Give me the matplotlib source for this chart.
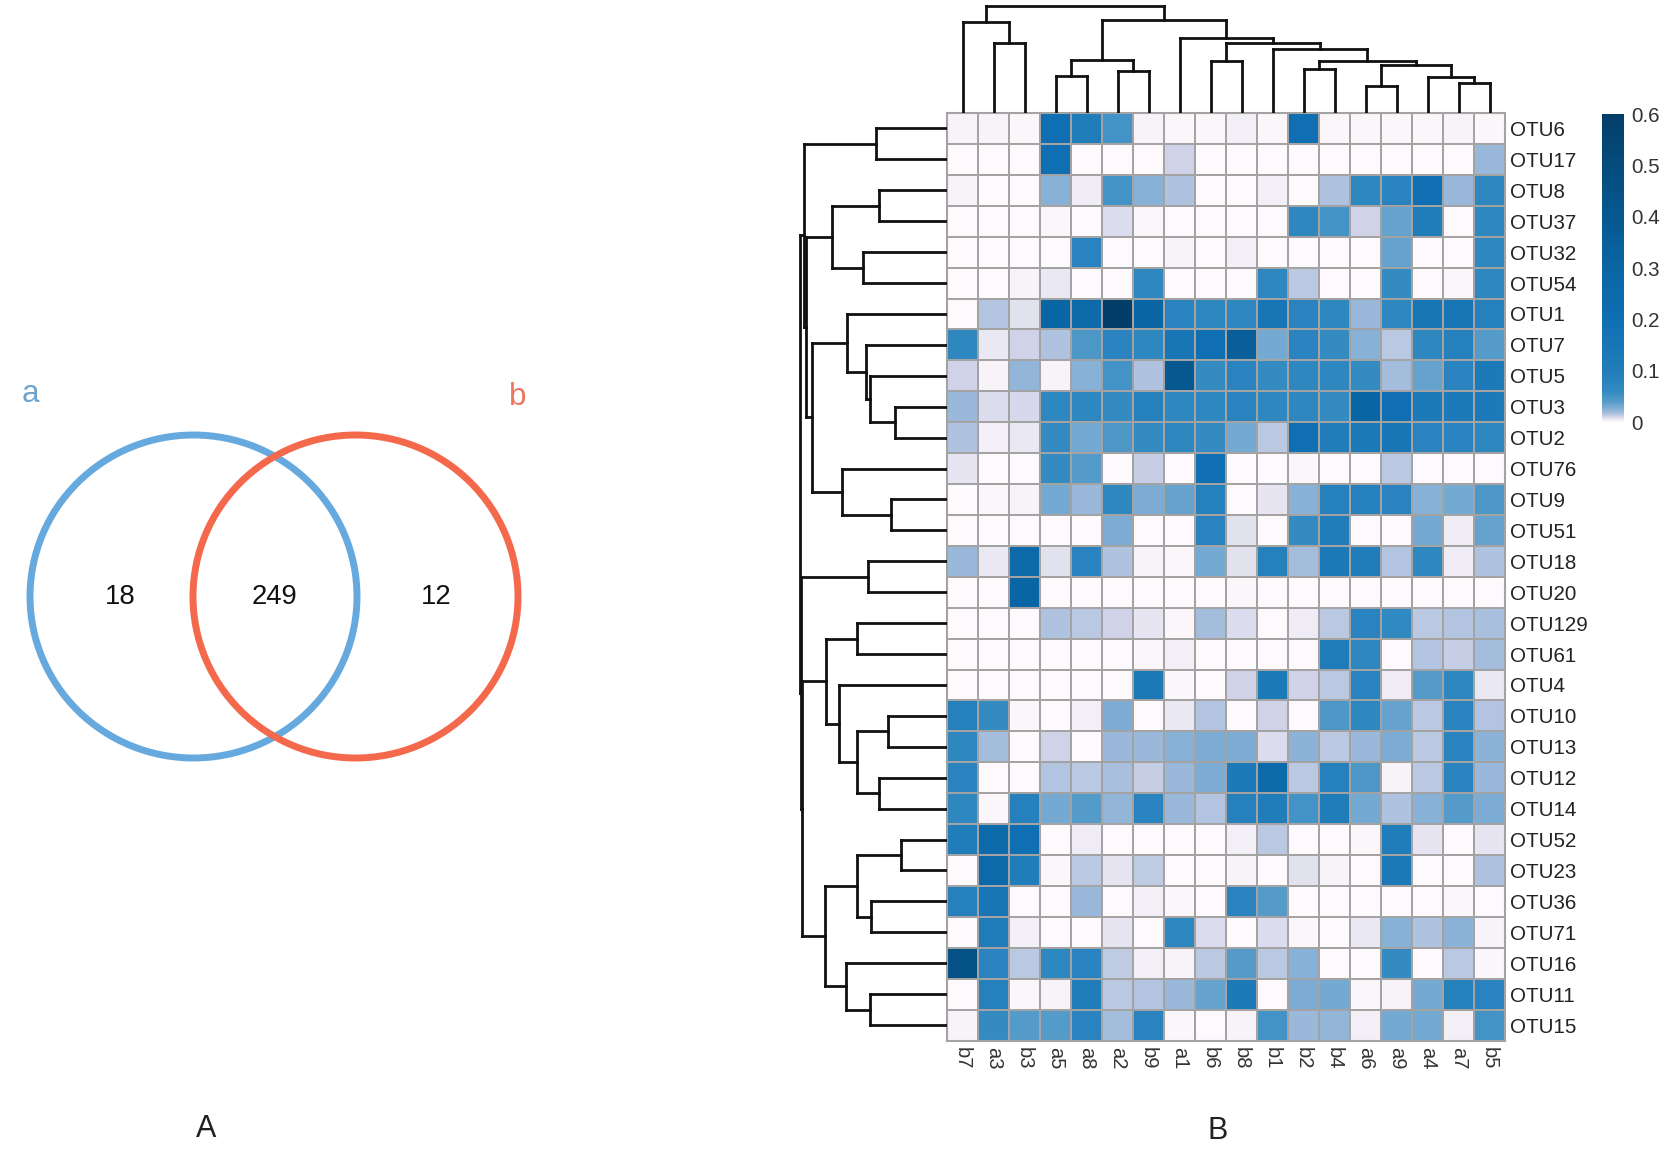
import numpy as np
import matplotlib
matplotlib.use("Agg")
import matplotlib.pyplot as plt
from matplotlib.colors import LinearSegmentedColormap, Normalize
from matplotlib.cm import ScalarMappable
from matplotlib.patches import Ellipse

plt.rcParams['font.family'] = ['Liberation Sans', 'DejaVu Sans']

W, H = 1667, 1154

# ---- Venn counts ----
set_names = ['a', 'b']
venn_counts = ['18', '249', '12']

# ---- Heatmap data ----
samples = ['b7','a3','b3','a5','a8','a2','b9','a1','b6','b8','b1','b2','b4','a6','a9','a4','a7','b5']
otus = ['OTU6','OTU17','OTU8','OTU37','OTU32','OTU54','OTU1','OTU7','OTU5','OTU3','OTU2','OTU76',
        'OTU9','OTU51','OTU18','OTU20','OTU129','OTU61','OTU4','OTU10','OTU13','OTU12','OTU14',
        'OTU52','OTU23','OTU36','OTU71','OTU16','OTU11','OTU15']
abundance = [
 [.002,.002,.001,.2,.1,.05,.002,.001,.001,.003,.001,.2,.001,.001,.001,.001,.002,.001],
 [0,0,0,.2,0,0,0,.01,0,0,0,0,0,0,0,0,0,.02],
 [.002,0,0,.025,.004,.05,.025,.016,0,0,.003,0,.016,.07,.08,.2,.02,.07],
 [0,0,0,.001,0,.008,.001,0,0,0,0,.07,.05,.01,.035,.1,0,.07],
 [0,0,0,0,.08,0,0,.002,0,.003,0,0,0,0,.035,0,0,.07],
 [0,0,.002,.005,0,0,.07,0,0,0,.07,.014,0,0,.06,0,.001,.07],
 [0,.015,.007,.3,.25,.6,.3,.08,.07,.07,.15,.08,.07,.02,.07,.15,.15,.09],
 [.07,.005,.01,.016,.045,.08,.07,.15,.2,.35,.03,.08,.06,.025,.014,.07,.09,.04],
 [.01,.002,.022,.002,.025,.05,.016,.4,.06,.08,.06,.07,.07,.06,.018,.035,.08,.12],
 [.02,.008,.009,.07,.07,.06,.09,.07,.07,.08,.07,.07,.06,.3,.2,.12,.12,.12],
 [.016,.003,.005,.06,.03,.045,.06,.07,.06,.03,.014,.2,.1,.13,.15,.08,.08,.07],
 [.006,0,0,.06,.04,0,.012,0,.2,0,0,.001,0,0,.014,0,0,0],
 [0,.001,.002,.03,.02,.07,.028,.035,.09,0,.006,.025,.09,.09,.08,.025,.03,.045],
 [0,0,0,0,0,.028,0,0,.08,.007,0,.06,.1,0,0,.03,.004,.035],
 [.02,.005,.25,.007,.08,.016,.002,.001,.03,.007,.09,.018,.13,.1,.015,.07,.004,.016],
 [0,0,.3,0,0,0,0,0,0,.001,0,0,0,0,0,0,0,0],
 [0,0,0,.016,.014,.01,.006,.001,.018,.008,0,.004,.014,.08,.065,.014,.015,.017],
 [0,0,0,0,0,0,.001,.003,0,0,0,0,.11,.07,0,.015,.012,.018],
 [0,0,0,0,0,0,.13,.001,0,.01,.12,.01,.014,.08,.004,.04,.07,.005],
 [.09,.06,.001,0,.003,.028,0,.005,.015,0,.01,0,.045,.07,.035,.014,.08,.015],
 [.07,.018,0,.01,0,.02,.02,.025,.028,.028,.008,.024,.014,.02,.028,.014,.08,.024],
 [.08,0,0,.015,.014,.017,.012,.02,.028,.12,.25,.014,.09,.045,.002,.014,.08,.02],
 [.07,.001,.09,.03,.04,.022,.08,.02,.015,.09,.1,.05,.1,.03,.016,.025,.04,.028],
 [.1,.25,.2,0,.004,0,0,0,0,.003,.014,0,0,.001,.1,.006,0,.006],
 [0,.25,.1,.001,.014,.006,.013,0,0,.002,0,.007,.002,0,.13,0,0,.016],
 [.09,.15,0,0,.02,0,.003,.001,0,.08,.04,0,0,0,0,0,.001,0],
 [0,.11,.003,0,0,.006,0,.07,.008,0,.008,.001,0,.005,.025,.016,.024,.002],
 [.45,.08,.014,.07,.08,.013,.003,.002,.014,.04,.014,.025,0,0,.06,0,.014,.001],
 [0,.09,.001,.002,.1,.014,.015,.02,.035,.12,0,.028,.03,.001,.002,.03,.09,.08],
 [.002,.06,.04,.04,.08,.018,.08,.001,0,.002,.05,.02,.022,.003,.03,.03,.003,.05],
]
cbar_ticks = [0, .1, .2, .3, .4, .5, .6]
cbar_labels = ['0', '0.1', '0.2', '0.3', '0.4', '0.5', '0.6']

# ---- Clustering trees: (height, left, right) ----
column_tree = (107,
    (91, 'b7', (70, 'a3', 'b3')),
    (93,
        (53, (37, 'a5', 'a8'), (42, 'a2', 'b9')),
        (75, 'a1',
            (70, (52, 'b6', 'b8'),
                (64, 'b1',
                    (52, (44, 'b2', 'b4'),
                        (48, (27, 'a6', 'a9'),
                            (36, 'a4', (30, 'a7', 'b5')))))))))

row_tree = (147.3,
    (143, (71, 'OTU6', 'OTU17'),
        (141,
            (115, (68, 'OTU8', 'OTU37'), (84, 'OTU32', 'OTU54')),
            (135,
                (100, 'OTU1', (81, 'OTU7', (77, 'OTU5', (52, 'OTU3', 'OTU2')))),
                (105, 'OTU76', (56, 'OTU9', 'OTU51'))))),
    (146.3, (79, 'OTU18', 'OTU20'),
        (145.3,
            (121, (90, 'OTU129', 'OTU61'),
                (108, 'OTU4',
                    (90, (59, 'OTU10', 'OTU13'), (68, 'OTU12', 'OTU14')))),
            (122,
                (90, (46, 'OTU52', 'OTU23'), (76, 'OTU36', 'OTU71')),
                (101, 'OTU16', (77, 'OTU11', 'OTU15'))))))

# ---- Colours ----
cmap_nodes = [(0, '#FEF9FC'), (.003, '#F3EFF6'), (.006, '#E6E5F1'), (.01, '#D0D3E8'),
              (.015, '#B3C4E0'), (.02, '#9AB8DA'), (.03, '#74A9D2'), (.04, '#559BC9'),
              (.06, '#338BC2'), (.08, '#2A83BE'), (.1, '#217DBA'), (.2, '#0F6FB2'),
              (.3, '#0A65A4'), (.4, '#055890'), (.6, '#033E68')]
cmap = LinearSegmentedColormap.from_list('otu', [(v / .6, c) for v, c in cmap_nodes], N=2048)
norm = Normalize(0, .6)
BLUE, RED = '#66A9DE', '#F4694C'


def axes_px(fig, x0, y0, x1, y1):
    return fig.add_axes([x0 / W, 1 - y1 / H, (x1 - x0) / W, (y1 - y0) / H])


def draw_tree(node, pos, seg):
    """Walk a (height, left, right) tree; return (position, height)."""
    if isinstance(node, str):
        return pos[node], 0
    h, left, right = node
    pl, hl = draw_tree(left, pos, seg)
    pr, hr = draw_tree(right, pos, seg)
    seg(pl, hl, pl, h)
    seg(pr, hr, pr, h)
    seg(pl, h, pr, h)
    return (pl + pr) / 2, h


fig = plt.figure(figsize=(W / 100, H / 100), dpi=100)
fig.patch.set_facecolor('white')

HX0, HX1, HY0, HY1 = 947, 1505, 113, 1040.5

# Panel A: Venn
ax = fig.add_axes([0, 0, 1, 1])
ax.set_xlim(0, W)
ax.set_ylim(H, 0)
ax.axis('off')
ax.add_patch(Ellipse((193.5, 596.5), 327, 323, fill=False, ec=BLUE, lw=5))
ax.add_patch(Ellipse((355.5, 596.5), 325, 323, fill=False, ec=RED, lw=5))
ax.text(30, 394, set_names[0], color='#6CA3CF', fontsize=22.5, ha='center', va='center')
ax.text(518, 397, set_names[1], color='#EE7660', fontsize=22.5, ha='center', va='center')
for x, t in zip([120, 274, 436], venn_counts):
    ax.text(x, 597, t, fontsize=19.8, ha='center', va='center', color='#111111')
ax.text(206, 1129, 'A', fontsize=22, ha='center', va='center', color='#222222')
ax.text(1218, 1131, 'B', fontsize=22, ha='center', va='center', color='#222222')

# Panel B: heatmap
hm = axes_px(fig, HX0, HY0, HX1, HY1)
Z = np.array(abundance)
hm.pcolormesh(np.arange(len(samples) + 1), np.arange(len(otus) + 1), Z, cmap=cmap, norm=norm,
              edgecolors='#A3A3A3', linewidth=1.15)
hm.set_xlim(0, len(samples))
hm.set_ylim(len(otus), 0)
hm.set_xticks(np.arange(len(samples)) + .5, samples, rotation=270, fontsize=14.5, color='#333333')
hm.yaxis.tick_right()
hm.set_yticks(np.arange(len(otus)) + .5, otus, fontsize=14.8, color='#222222')
hm.tick_params(axis='y', length=0, pad=3.5)
hm.tick_params(axis='x', length=0, pad=5)
for s in hm.spines.values():
    s.set_color('#A3A3A3')
    s.set_linewidth(1.5)

# Column dendrogram
top = axes_px(fig, HX0, 0, HX1, HY0)
top.set_xlim(0, len(samples))
top.set_ylim(0, HY0)
top.axis('off')
draw_tree(column_tree, {s: i + .5 for i, s in enumerate(samples)},
          lambda a, b, c, d: top.plot([a, c], [b, d], color='#111111', lw=2, solid_capstyle='projecting'))

# Row dendrogram
left = axes_px(fig, HX0 - 155, HY0, HX0, HY1)
left.set_xlim(155, 0)
left.set_ylim(len(otus), 0)
left.axis('off')
draw_tree(row_tree, {s: i + .5 for i, s in enumerate(otus)},
          lambda a, b, c, d: left.plot([b, d], [a, c], color='#111111', lw=2, solid_capstyle='projecting'))

# Colour bar
cax = axes_px(fig, 1602, 114, 1624, 422)
cb = fig.colorbar(ScalarMappable(norm=norm, cmap=cmap), cax=cax)
cb.outline.set_visible(False)
cb.set_ticks(cbar_ticks, labels=cbar_labels)
cb.ax.tick_params(length=0, pad=5.5, labelsize=14.8, labelcolor='#333333')

fig.savefig('out.png', dpi=100, facecolor='white')
